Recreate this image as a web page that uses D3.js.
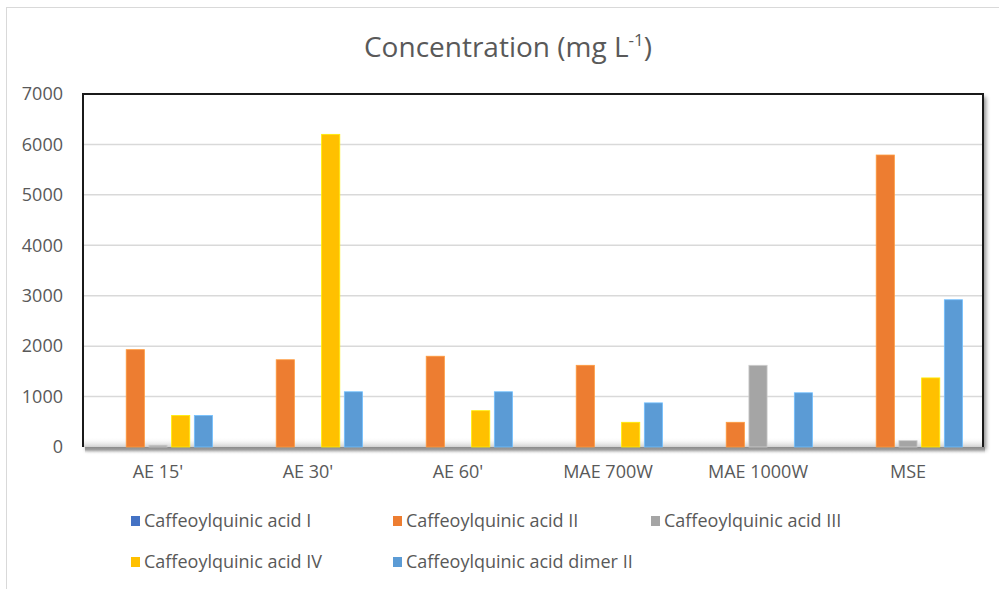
<!DOCTYPE html>
<html><head><meta charset="utf-8">
<script src="https://cdn.jsdelivr.net/npm/d3@7"></script>
<style>
html,body{margin:0;padding:0;background:#fff;}
svg{display:block;font-family:"Open Sans","Liberation Sans",sans-serif;}
</style></head>
<body>
<svg id="c" width="999" height="589"></svg>
<script>
const categories = ["AE 15'", "AE 30'", "AE 60'", "MAE 700W", "MAE 1000W", "MSE"];
const seriesNames = ["Caffeoylquinic acid I", "Caffeoylquinic acid II", "Caffeoylquinic acid III", "Caffeoylquinic acid IV", "Caffeoylquinic acid dimer II"];
const acidI     = [0, 0, 0, 0, 0, 0];
const acidII    = [1930, 1730, 1800, 1620, 490, 5790];
const acidIII   = [35, 0, 0, 0, 1620, 125];
const acidIV    = [625, 6200, 720, 490, 0, 1370];
const dimerII   = [625, 1095, 1095, 875, 1075, 2920];
const seriesColors = ["#4472C4", "#ED7D31", "#A5A5A5", "#FFC000", "#5B9BD5"];
const yTicks = [0, 1000, 2000, 3000, 4000, 5000, 6000, 7000];

const seriesValues = [acidI, acidII, acidIII, acidIV, dimerII];

const svg = d3.select("#c");
const L = 83, R = 983, T = 94, B = 447;

const defs = svg.append("defs");
const f = defs.append("filter").attr("id","sh").attr("x","-5%").attr("y","-5%").attr("width","112%").attr("height","120%");
f.append("feDropShadow").attr("dx",3).attr("dy",3).attr("stdDeviation",2).attr("flood-color","#000").attr("flood-opacity",0.45);
const gFloor = defs.append("linearGradient").attr("id","floor").attr("x1",0).attr("y1",0).attr("x2",0).attr("y2",1);
gFloor.append("stop").attr("offset","0%").attr("stop-color","#ffffff").attr("stop-opacity",0);
gFloor.append("stop").attr("offset","100%").attr("stop-color","#d0d0d0").attr("stop-opacity",1);
const gSh = defs.append("linearGradient").attr("id","floorsh").attr("x1",0).attr("y1",0).attr("x2",0).attr("y2",1);
gSh.append("stop").attr("offset","0%").attr("stop-color","#8a8a8a");
gSh.append("stop").attr("offset","40%").attr("stop-color","#a0a0a0");
gSh.append("stop").attr("offset","100%").attr("stop-color","#ffffff").attr("stop-opacity",0);

// outer chart border
svg.append("rect").attr("x",6.5).attr("y",7.5).attr("width",1100).attr("height",700)
  .attr("fill","none").attr("stroke","#d9d9d9").attr("stroke-width",1);

// title
const title = svg.append("text").attr("x",508).attr("y",57).attr("text-anchor","middle")
  .attr("fill","#595959").attr("font-size",28);
title.append("tspan").text("Concentration (mg L");
title.append("tspan").attr("font-size",17).attr("dy",-11).text("-1");
title.append("tspan").attr("dy",11).text(")");

// plot area with shadow
svg.append("rect").attr("x",L).attr("y",T).attr("width",R-L).attr("height",B-T)
  .attr("fill","#fff").attr("filter","url(#sh)");

const y = d3.scaleLinear().domain([0,7000]).range([B,T]);
const x0 = d3.scaleBand().domain(categories).range([L,R]).paddingInner(0.243).paddingOuter(0.1215);
const x1 = d3.scaleBand().domain(seriesNames).range([0,x0.bandwidth()]).paddingInner(0.2).paddingOuter(0.1);

// floor gradient
svg.append("rect").attr("x",L).attr("y",B-10).attr("width",R-L).attr("height",10).attr("fill","url(#floor)");
svg.append("rect").attr("x",L+2).attr("y",B).attr("width",R-L).attr("height",7).attr("fill","url(#floorsh)");

// gridlines
svg.append("g").selectAll("line").data(yTicks.filter(d=>d>0 && d<7000)).join("line")
  .attr("x1",L).attr("x2",R).attr("y1",d=>y(d)).attr("y2",d=>y(d))
  .attr("stroke","#d9d9d9").attr("stroke-width",1.5);

// bars
const data = categories.map((c,i)=>({cat:c, vals: seriesNames.map((s,j)=>({s, j, v: seriesValues[j][i]}))}));
svg.append("g").selectAll("g").data(data).join("g")
  .attr("transform",d=>`translate(${x0(d.cat)},0)`)
  .selectAll("rect").data(d=>d.vals.filter(v=>v.v>0)).join("rect")
  .attr("x",d=>x1(d.s)).attr("width",x1.bandwidth())
  .attr("y",d=>y(d.v)).attr("height",d=>B-y(d.v))
  .attr("fill",d=>seriesColors[d.j])
  .attr("stroke",d=>d3.color(seriesColors[d.j]).brighter(0.6)).attr("stroke-width",0.8);

// border left/top/right
svg.append("path").attr("d",`M${L},${B}V${T}H${R}V${B}`).attr("fill","none")
  .attr("stroke","#1a1a1a").attr("stroke-width",2);

// y axis labels
const yAxis = d3.axisLeft(y).tickValues(yTicks).tickFormat(d3.format("d")).tickSize(0).tickPadding(0);
const gy = svg.append("g").attr("transform",`translate(63,0)`).call(yAxis);
gy.select(".domain").remove();
gy.selectAll("text").attr("font-size",18).attr("fill","#595959").attr("font-family","Open Sans");

// x axis labels
const xAxis = d3.axisBottom(x0).tickSize(0).tickPadding(0);
const gx = svg.append("g").attr("transform",`translate(0,465)`).call(xAxis);
gx.select(".domain").remove();
gx.selectAll("text").attr("font-size",18).attr("fill","#595959").attr("font-family","Open Sans");

// legend
const legPos = [[131,521],[393,521],[651,521],[131,562],[393,562]];
const lg = svg.append("g").selectAll("g").data(seriesNames).join("g")
  .attr("transform",(d,i)=>`translate(${legPos[i][0]},${legPos[i][1]})`);
lg.append("rect").attr("x",0).attr("y",-5).attr("width",9).attr("height",10).attr("fill",(d,i)=>seriesColors[i]);
lg.append("text").attr("x",13).attr("y",0).attr("dy","0.35em").attr("font-size",18).attr("fill","#595959").text(d=>d);
</script>
</body></html>
